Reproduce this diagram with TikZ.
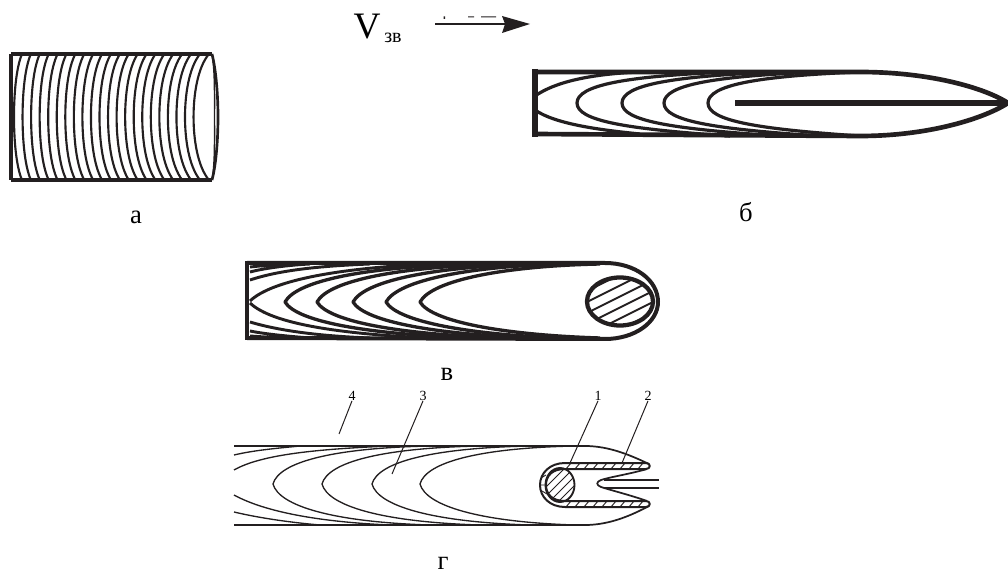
\documentclass[tikz,border=0pt]{standalone}
\usepackage{fontspec}
\setmainfont{Liberation Serif}
\definecolor{ink}{HTML}{231F20}
\tikzset{
  thin line/.style={ink,line width=0.75pt},
  mid line/.style={ink,line width=1.9pt},
  heavy/.style={ink,line width=3pt},
  cap label/.style={font=\fontsize{20}{22}\selectfont,text=black,inner sep=0pt},
  num label/.style={font=\fontsize{10.5}{12}\selectfont,text=black,inner sep=0pt},
}
\begin{document}
\begin{tikzpicture}[x=0.75pt,y=-0.75pt,line join=round]
\useasboundingbox (0,0) rectangle (1008,574);
% panel a
\begin{scope}
\clip (11,54) rectangle (220,180);
\foreach \i in {0,...,21}{
  \pgfmathsetmacro{\xt}{22+\i*8.9}
  \pgfmathsetmacro{\off}{8+\i*0.35}
  \draw[mid line,line width=1.6pt] (\xt,54) .. controls (\xt-\off*0.75,68) and (\xt-\off,95) .. (\xt-\off,117)
     .. controls (\xt-\off,139) and (\xt-\off*0.75,166) .. (\xt,180);
}
\end{scope}
\draw[heavy,line width=3.6pt] (11,180) -- (11,54);
\draw[heavy,line width=2.6pt] (11,54) -- (212,54) (11,180) -- (212,180);
\draw[mid line,line width=2pt] (212,54) .. controls (216,70) and (218,95) .. (218,117) .. controls (218,140) and (216,165) .. (212,180);
\draw[mid line,line width=1.1pt] (212,54) .. controls (215,70) and (214.5,95) .. (214.5,117) .. controls (214.5,140) and (215,165) .. (212,180);
% panel b
\foreach \t/\e in {577/730,622/780,664/820,708/860}{
  \draw[mid line,line width=2.4pt] (\e,72) .. controls (\t+50,76) and (\t,85) .. (\t,103)
    .. controls (\t,121) and (\t+50,129) .. (\e,136);
}
\draw[mid line,line width=2.4pt] (640,72) .. controls (590,74) and (555,82) .. (535,96)
   (535,110) .. controls (555,124) and (600,130) .. (640,134);
\draw[heavy,line width=5pt] (535,69) -- (535,137);
\draw[heavy,line width=3.5pt] (534,72) -- (860,72)
  .. controls (930,72) and (985,88) .. (1008,103)
  .. controls (985,118) and (930,136) .. (860,136) -- (534,134);
\draw[heavy,line width=4pt] (735,103) -- (1006,103);
% panel c
\foreach \t/\e in {285/480,317/510,353/540,386/565,420/600}{
  \draw[mid line,line width=2.5pt] (\e,264) .. controls (\t+85,266) and (\t+12,280) .. (\t,302)
    .. controls (\t+12,322) and (\t+85,335) .. (\e,338);
}
\draw[mid line,line width=2.2pt] (430,264) .. controls (340,268) and (272,280) .. (250,301)
  (250,303) .. controls (272,324) and (340,334) .. (430,338)
  (370,264) .. controls (320,266) and (280,270) .. (250,280)
  (250,322) .. controls (280,331) and (320,336) .. (370,338)
  (310,264) .. controls (290,265) and (265,268) .. (250,272)
  (250,331) .. controls (265,334) and (285,336) .. (310,338)
  (280,264) -- (250,267) (250,336) -- (280,338);
\begin{scope}
\clip (620,301.5) ellipse [x radius=33,y radius=24];
\foreach \d in {-60,-49,...,60}{
  \draw[thin line,line width=1.5pt] (620-50,301.5+\d+25) -- (620+50,301.5+\d-25);
}
\end{scope}
\draw[mid line,line width=3.2pt] (620,301.5) ellipse [x radius=33,y radius=24];
\draw[heavy,line width=3.6pt] (247,261) -- (247,340);
\draw[heavy,line width=3pt] (247,263) -- (605,263) .. controls (635,263) and (658,280) .. (658,302)
  .. controls (658,322) and (635,339) .. (605,339) -- (247,338);
% panel d
\foreach \t/\e in {273/430,322/480,372/530,420/575}{
  \draw[thin line,line width=1pt] (\e,446) .. controls (\t+60,448) and (\t+6,462) .. (\t,484)
    .. controls (\t+6,506) and (\t+60,522) .. (\e,525);
}
\draw[thin line,line width=1pt] (390,446) .. controls (320,449) and (262,454) .. (234,470)
  (234,495) .. controls (265,512) and (320,522) .. (390,525)
  (300,446) .. controls (280,448) and (255,450) .. (234,455)
  (234,512) .. controls (255,517) and (285,522) .. (320,525);
\draw[thin line,line width=1.8pt] (234,446) -- (585,446) (234,525) -- (585,525);
\draw[thin line,line width=1.3pt] (585,446) .. controls (610,446) and (632,456) .. (649,464)
  (649,506) .. controls (632,515) and (610,525) .. (585,525);
% mouth
\draw[thin line,line width=1.3pt] (647,469) .. controls (630,474) and (610,477) .. (601,480)
  .. controls (596,482) and (596,485) .. (601,487) .. controls (610,490) and (630,495) .. (647,501);
\draw[thin line,line width=1.2pt] (604,480) -- (659,480) (604,488) -- (659,488);
% rod
\begin{scope}
\clip (560,485) ellipse [x radius=14.5,y radius=17];
\foreach \d in {-48,-39,...,48}{
  \draw[thin line] (560-30,485+\d+30) -- (560+30,485+\d-30);
}
\end{scope}
\draw[thin line,line width=1.4pt] (560,485) ellipse [x radius=14.5,y radius=17];
% tube
\draw[thin line,line width=1.5pt] (565,463) -- (646,463) .. controls (651,463) and (651,469) .. (646,469) -- (565,469)
  .. controls (552,469) and (546,476) .. (546,485) .. controls (546,494) and (552,501) .. (565,501)
  -- (646,501) .. controls (651,501) and (651,507) .. (646,507) -- (565,507)
  .. controls (550,507) and (540,497) .. (540,485) .. controls (540,473) and (550,463) .. (565,463);
\foreach \x in {566,575,...,640}{
  \draw[thin line,line width=0.7pt] (\x,469) -- (\x+5,463) (\x,507) -- (\x+5,501);
}
\draw[thin line,line width=0.7pt] (546,475) -- (541,478) (545,485) -- (540,485) (547,494) -- (542,491);
% leaders and labels
\node[num label] (n4) at (352,396) {4};
\node[num label] (n3) at (423,396) {3};
\node[num label] (n1) at (598,396) {1};
\node[num label] (n2) at (648,396) {2};
\coordinate (p4) at (339,434);
\coordinate (p3) at (392,474);
\coordinate (p1) at (570,463);
\coordinate (p2) at (622,463);
\draw[thin line] (n4.south) -- (p4);
\draw[thin line] (n3.south) -- (p3);
\draw[thin line] (n1.south) -- (p1);
\draw[thin line] (n2.south) -- (p2);
\node[cap label] (la) at (136,217) {а};
\node[cap label] (lb) at (746,212) {б};
\node[cap label] (lv) at (447,374) {в};
\node[cap label] (lg) at (443,563) {г};
% velocity
\node[inner sep=0pt,font=\fontsize{28}{30}\selectfont] (v) at (367,27) {V};
\node[inner sep=0pt,font=\fontsize{15}{17}\selectfont] (vs) at (393,38) {зв};
\coordinate (a0) at (435,24);
\coordinate (a1) at (530,24);
\draw[ink,line width=1.7pt] (a0) -- (505,24);
\fill[ink] (a1) -- (502,16) -- (505,24) -- (502,33) -- cycle;
\fill[ink] (443.5,16.5) rectangle (445,19) (468,16.5) rectangle (474,17.5) (481,16.5) rectangle (496,17.5);
\end{tikzpicture}
\end{document}
